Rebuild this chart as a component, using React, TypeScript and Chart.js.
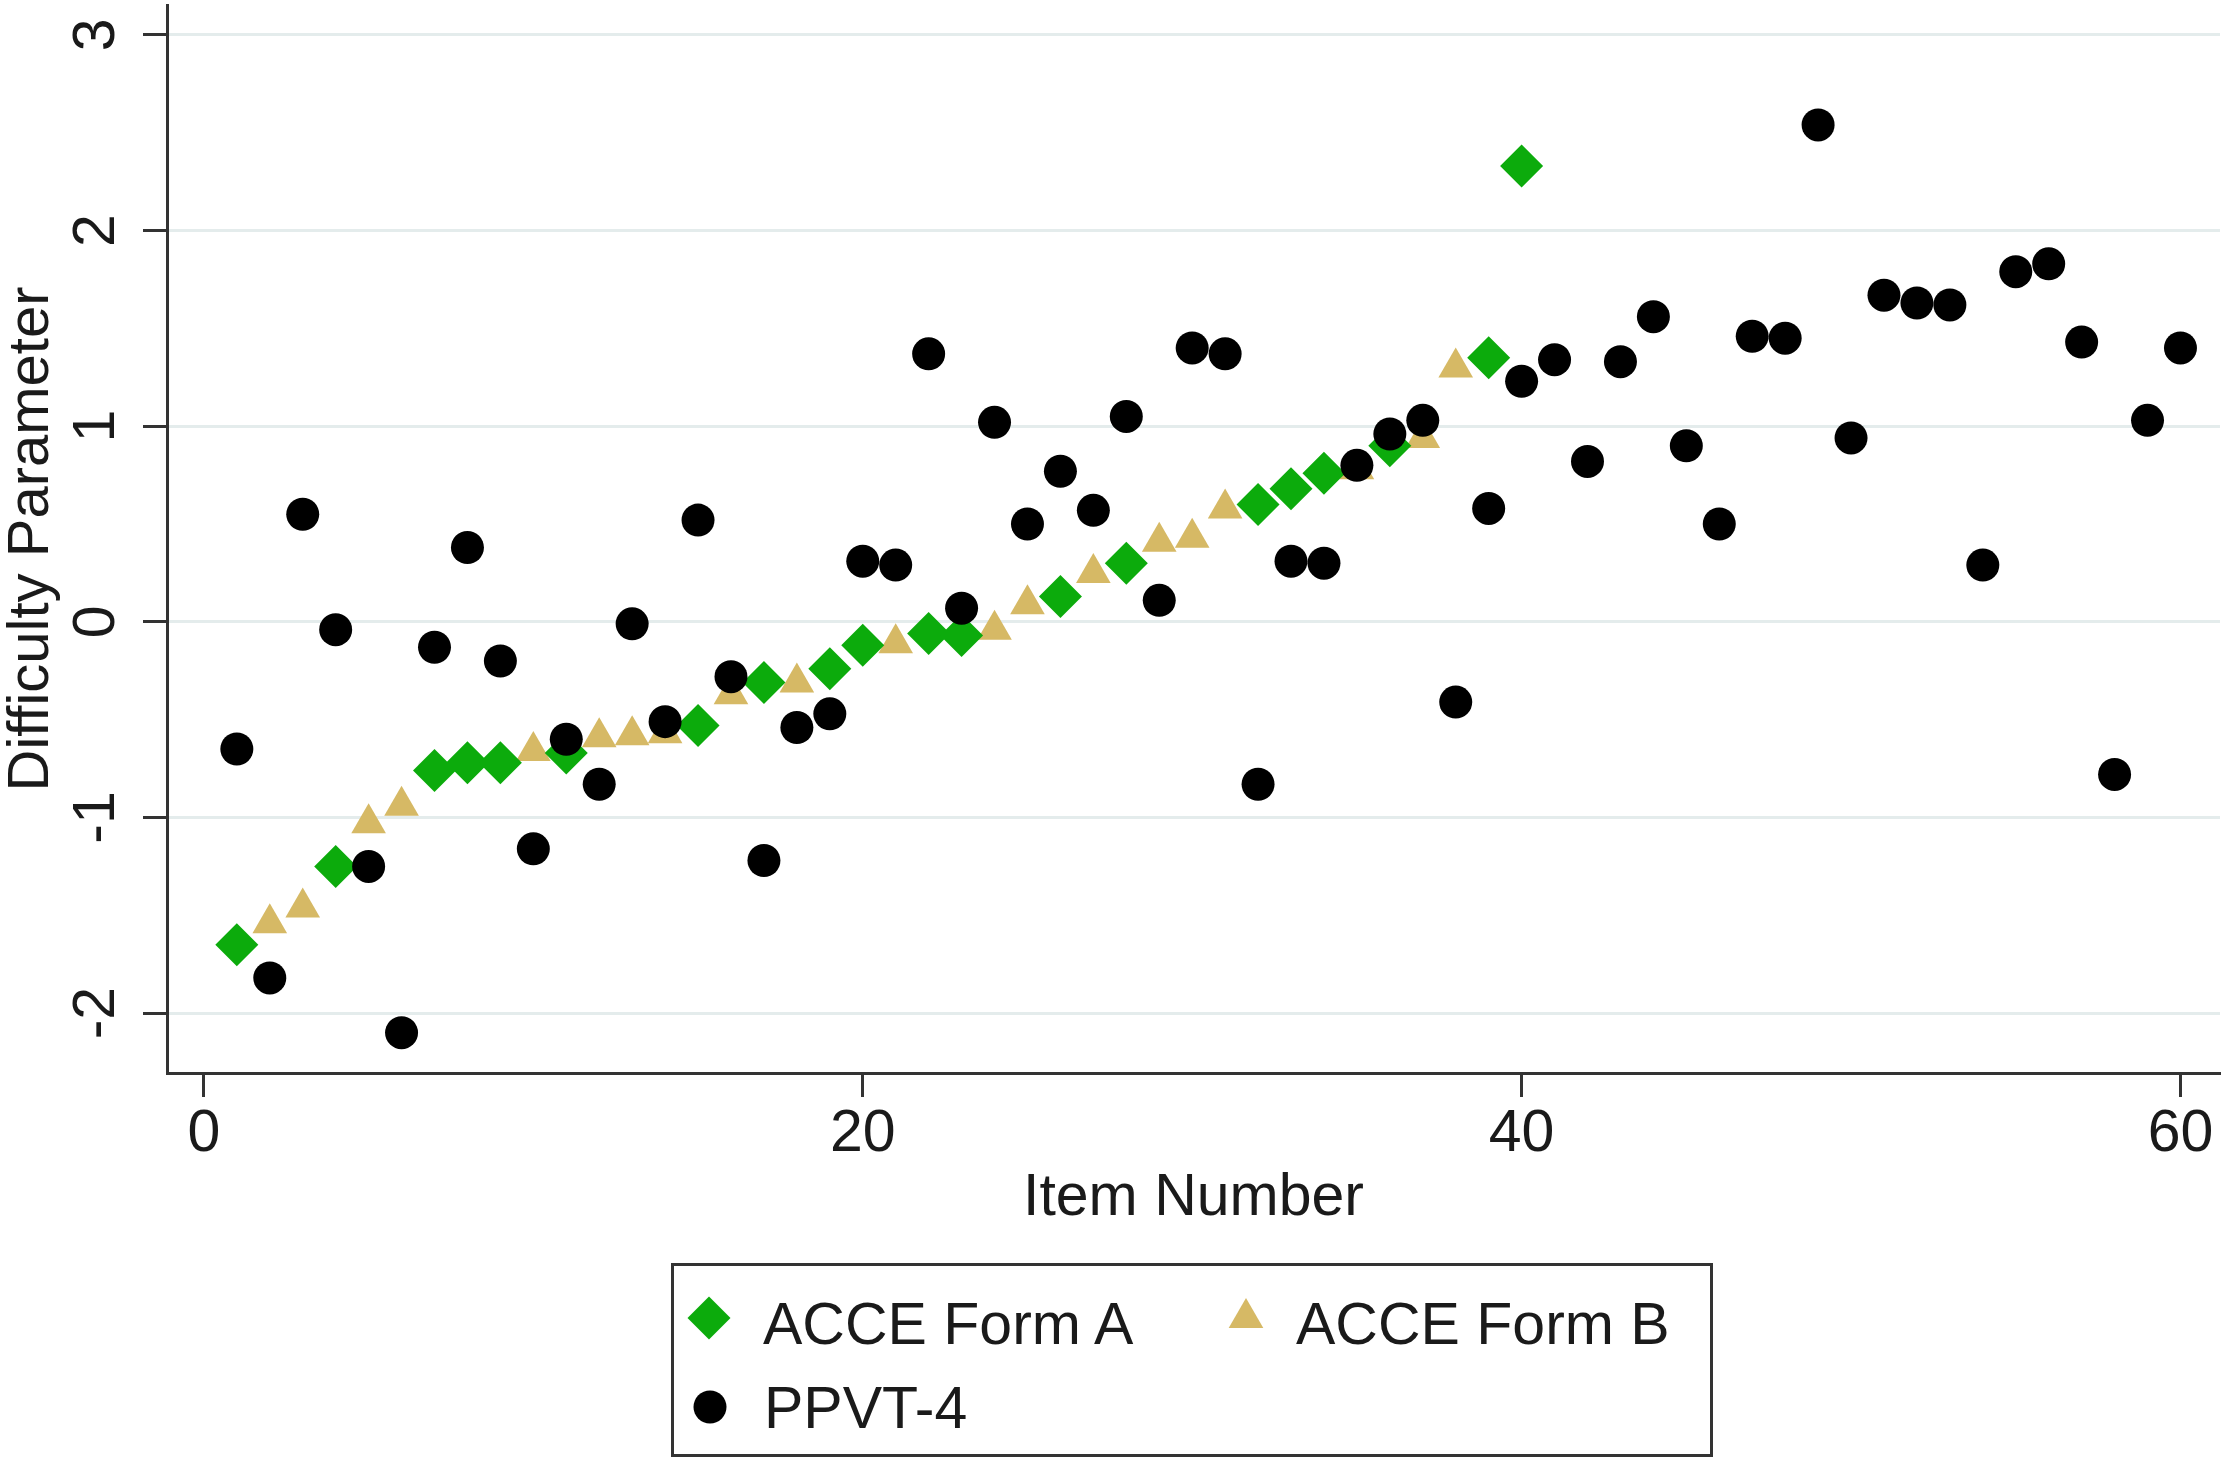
import React, { useEffect, useRef } from "react";
import { Chart, registerables } from "chart.js";

Chart.register(...registerables);

// ---------- data ----------
const formAItems = [1, 4, 7, 8, 9, 11, 15, 17, 19, 20, 22, 23, 26, 28, 32, 33, 34, 36, 39, 40];
const formAValues = [-1.65, -1.25, -0.76, -0.72, -0.72, -0.67, -0.53, -0.31, -0.24, -0.12, -0.06, -0.07, 0.13, 0.30, 0.60, 0.68, 0.76, 0.90, 1.35, 2.33];

const formBItems = [2, 3, 5, 6, 10, 12, 13, 14, 16, 18, 21, 24, 25, 27, 29, 30, 31, 35, 37, 38];
const formBValues = [-1.54, -1.46, -1.03, -0.94, -0.66, -0.59, -0.58, -0.57, -0.37, -0.31, -0.11, -0.04, 0.09, 0.25, 0.41, 0.43, 0.58, 0.78, 0.94, 1.30];

const ppvtItems = [
  1, 2, 3, 4, 5, 6, 7, 8, 9, 10, 11, 12, 13, 14, 15, 16, 17, 18, 19, 20,
  21, 22, 23, 24, 25, 26, 27, 28, 29, 30, 31, 32, 33, 34, 35, 36, 37, 38, 39, 40,
  41, 42, 43, 44, 45, 46, 47, 48, 49, 50, 51, 52, 53, 54, 55, 56, 57, 58, 59, 60,
];
const ppvtValues = [
  -0.65, -1.82, 0.55, -0.04, -1.25, -2.10, -0.13, 0.38, -0.20, -1.16,
  -0.60, -0.83, -0.01, -0.51, 0.52, -0.28, -1.22, -0.54, -0.47, 0.31,
  0.29, 1.37, 0.07, 1.02, 0.50, 0.77, 0.57, 1.05, 0.11, 1.40,
  1.37, -0.83, 0.31, 0.30, 0.80, 0.96, 1.03, -0.41, 0.58, 1.23,
  1.34, 0.82, 1.33, 1.56, 0.90, 0.50, 1.46, 1.45, 2.54, 0.94,
  1.67, 1.63, 1.62, 0.29, 1.79, 1.83, 1.43, -0.78, 1.03, 1.40,
];

const xTickValues = [0, 20, 40, 60];
const yTickValues = [-2, -1, 0, 1, 2, 3];

const seriesLabels = ["ACCE Form A", "ACCE Form B", "PPVT-4"];
const xTitle = "Item Number";
const yTitle = "Difficulty Parameter";

// ---------- styles ----------
const W = 2228;
const H = 1470;
const FONT = "'Liberation Sans', Arial, Helvetica, sans-serif";
const INK = "#1a1a1a";
const AXIS = "#333333";
const GRID = "#e4ecec";
const GREEN = "#0cab0c";
const TAN = "#d6b965";
const BLACK = "#000000";

const toPoints = (xs: number[], ys: number[]) => xs.map((x, i) => ({ x, y: ys[i] }));

const noPad = (s: any) => {
  s.paddingTop = 0;
  s.paddingBottom = 0;
  s.paddingLeft = 0;
  s.paddingRight = 0;
};

export default function App() {
  const ref = useRef<HTMLCanvasElement | null>(null);

  useEffect(() => {
    document.body.style.margin = "0";
    const canvas = ref.current;
    if (!canvas) return;
    const chart = new Chart(canvas, {
      type: "scatter",
      data: {
        datasets: [
          {
            label: seriesLabels[2],
            data: toPoints(ppvtItems, ppvtValues),
            pointStyle: "circle",
            pointRadius: 16.5,
            backgroundColor: BLACK,
            borderWidth: 0,
            order: 0,
          },
          {
            label: seriesLabels[0],
            data: toPoints(formAItems, formAValues),
            pointStyle: "rectRot",
            pointRadius: 21.5,
            backgroundColor: GREEN,
            borderWidth: 0,
            order: 1,
          },
          {
            label: seriesLabels[1],
            data: toPoints(formBItems, formBValues),
            pointStyle: "triangle",
            pointRadius: 20,
            backgroundColor: TAN,
            borderWidth: 0,
            order: 2,
          },
        ],
      },
      options: {
        responsive: false,
        animation: false,
        devicePixelRatio: 1,
        layout: { autoPadding: false, padding: { top: 5, right: 8, left: 0, bottom: 0 } },
        plugins: {
          legend: { display: false },
          tooltip: { enabled: false },
        },
        scales: {
          x: {
            type: "linear",
            position: "bottom",
            min: -1.12,
            max: 61.2,
            afterBuildTicks: (s: any) => {
              s.ticks = xTickValues.map((v) => ({ value: v }));
            },
            afterFit: (s: any) => {
              s.height = H - 1073;
              noPad(s);
            },
            grid: {
              drawOnChartArea: false,
              drawTicks: true,
              tickLength: 24,
              tickWidth: 3,
              tickColor: AXIS,
            },
            border: { display: true, color: AXIS, width: 3 },
            ticks: {
              color: INK,
              font: { family: FONT, size: 59, lineHeight: 1.2 },
              padding: 2,
              minRotation: 0,
              maxRotation: 0,
            },
            title: {
              display: true,
              text: xTitle,
              color: INK,
              font: { family: FONT, size: 59, lineHeight: 1.2 },
              padding: { top: 0, bottom: 236 },
            },
          },
          y: {
            type: "linear",
            position: "left",
            min: -2.306,
            max: 3.153,
            afterBuildTicks: (s: any) => {
              s.ticks = yTickValues.map((v) => ({ value: v }));
            },
            afterFit: (s: any) => {
              s.width = 167;
              noPad(s);
            },
            grid: {
              drawOnChartArea: true,
              drawTicks: true,
              color: GRID,
              lineWidth: 3,
              tickLength: 24,
              tickWidth: 3,
              tickColor: AXIS,
            },
            border: { display: true, color: AXIS, width: 3 },
            ticks: {
              color: INK,
              font: { family: FONT, size: 59, lineHeight: 1.2 },
              padding: 19,
              minRotation: 90,
              maxRotation: 90,
              crossAlign: "center",
            },
            title: {
              display: true,
              text: yTitle,
              color: INK,
              font: { family: FONT, size: 58, lineHeight: 1.1 },
              padding: { top: 0, bottom: 0 },
            },
          },
        },
      },
    } as any);
    return () => chart.destroy();
  }, []);

  const textStyle = (left: number, centerY: number): React.CSSProperties => ({
    position: "absolute",
    left,
    top: centerY - 29.5,
    fontFamily: FONT,
    fontSize: 59,
    lineHeight: "59px",
    color: INK,
    whiteSpace: "nowrap",
  });

  return (
    <div style={{ position: "relative", width: W, height: H, background: "#ffffff", overflow: "hidden" }}>
      <canvas ref={ref} width={W} height={H} style={{ position: "absolute", left: 0, top: 0, width: W, height: H }} />
      <div
        style={{
          position: "absolute",
          left: 671,
          top: 1263,
          width: 1042,
          height: 194,
          boxSizing: "border-box",
          border: `3px solid ${AXIS}`,
          background: "#ffffff",
        }}
      />
      <svg width={W} height={H} style={{ position: "absolute", left: 0, top: 0, pointerEvents: "none" }}>
        <polygon points="687.5,1318 709,1296.5 730.5,1318 709,1339.5" fill={GREEN} />
        <polygon points="1246,1298 1263.3,1328 1228.7,1328" fill={TAN} />
        <circle cx={710} cy={1407} r={16.5} fill={BLACK} />
      </svg>
      <div style={textStyle(763, 1324)}>{seriesLabels[0]}</div>
      <div style={textStyle(1296, 1324)}>{seriesLabels[1]}</div>
      <div style={textStyle(764, 1408)}>{seriesLabels[2]}</div>
    </div>
  );
}
